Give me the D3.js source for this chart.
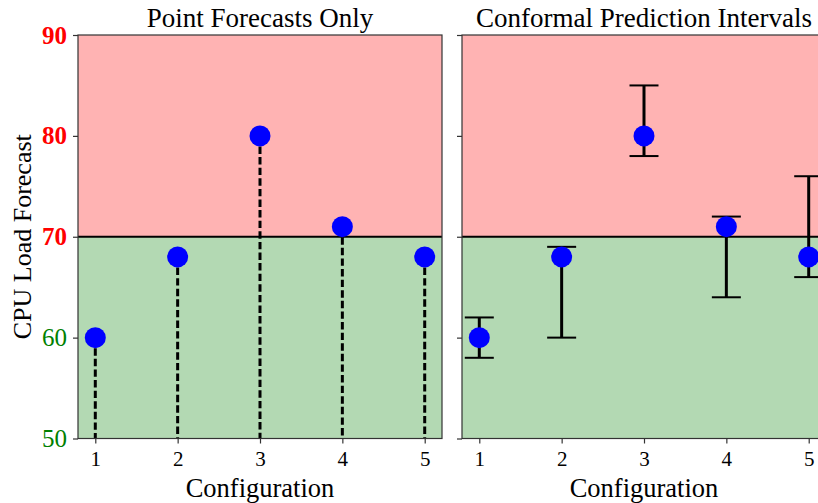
<!DOCTYPE html>
<html>
<head>
<meta charset="utf-8">
<script src="https://cdn.jsdelivr.net/npm/d3@7"></script>
<style>
  body { margin: 0; background: #fff; overflow: hidden; }
  svg { display: block; font-family: "Liberation Serif", "DejaVu Serif", serif; }
</style>
</head>
<body>
<div id="chart"></div>
<script>
// data
const configs = [1, 2, 3, 4, 5];
const forecasts = [60, 68, 80, 71, 68];
const lowerBounds = [58, 60, 78, 64, 66];
const upperBounds = [62, 69, 85, 72, 76];
const yTicks = [50, 60, 70, 80, 90];
const threshold = 70;
const panelTitles = ["Point Forecasts Only", "Conformal Prediction Intervals"];

const W = 818, H = 503;
const margin = {top: 35, left: 78};
const panelW = 364, panelH = 403.5, panelGap = 20;
const serif = "'Liberation Serif', serif";

const svg = d3.select("#chart").append("svg")
    .attr("width", W)
    .attr("height", H);

const x = d3.scaleLinear().domain([0.79, 5.21]).range([0, panelW]);
const y = d3.scaleLinear().domain([50, 90]).range([panelH, 0]);

const points = configs.map((c, i) => ({
    c: c, v: forecasts[i], lo: lowerBounds[i], hi: upperBounds[i]
}));

panelTitles.forEach((title, p) => {
    const left = margin.left + p * (panelW + panelGap);
    const g = svg.append("g")
        .attr("transform", "translate(" + left + "," + margin.top + ")");

    // background zones
    g.append("rect")
        .attr("x", 0).attr("y", y(90))
        .attr("width", panelW).attr("height", y(threshold) - y(90))
        .attr("fill", "#ffb3b3");
    g.append("rect")
        .attr("x", 0).attr("y", y(threshold))
        .attr("width", panelW).attr("height", y(50) - y(threshold))
        .attr("fill", "#b3d9b3");

    // threshold line
    g.append("line")
        .attr("x1", 0).attr("x2", panelW)
        .attr("y1", y(threshold)).attr("y2", y(threshold))
        .attr("stroke", "#000").attr("stroke-width", 2);

    if (p === 0) {
        // dashed stems down to the axis
        g.selectAll(".stem").data(points).join("line")
            .attr("class", "stem")
            .attr("x1", d => x(d.c)).attr("x2", d => x(d.c))
            .attr("y1", d => y(d.v)).attr("y2", y(50))
            .attr("stroke", "#000").attr("stroke-width", 3)
            .attr("stroke-dasharray", "7.4,3.2");
    } else {
        // error bars
        const eb = g.selectAll(".err").data(points).join("g").attr("class", "err");
        eb.append("line")
            .attr("x1", d => x(d.c)).attr("x2", d => x(d.c))
            .attr("y1", d => y(d.lo)).attr("y2", d => y(d.hi))
            .attr("stroke", "#000").attr("stroke-width", 3);
        eb.append("line")
            .attr("x1", d => x(d.c) - 14.5).attr("x2", d => x(d.c) + 14.5)
            .attr("y1", d => y(d.lo)).attr("y2", d => y(d.lo))
            .attr("stroke", "#000").attr("stroke-width", 2);
        eb.append("line")
            .attr("x1", d => x(d.c) - 14.5).attr("x2", d => x(d.c) + 14.5)
            .attr("y1", d => y(d.hi)).attr("y2", d => y(d.hi))
            .attr("stroke", "#000").attr("stroke-width", 2);
    }

    // forecast markers
    g.selectAll(".pt").data(points).join("circle")
        .attr("class", "pt")
        .attr("cx", d => x(d.c)).attr("cy", d => y(d.v))
        .attr("r", 10.5)
        .attr("fill", "#0000ff");

    // frame
    g.append("rect")
        .attr("width", panelW).attr("height", panelH)
        .attr("fill", "none").attr("stroke", "#333").attr("stroke-width", 1.2);

    // axes
    const xAxis = g.append("g")
        .attr("transform", "translate(0," + panelH + ")")
        .call(d3.axisBottom(x).tickValues(configs).tickSize(5).tickPadding(8).tickFormat(d3.format("d")));
    xAxis.attr("font-family", serif).attr("font-size", 21);
    xAxis.select(".domain").remove();
    xAxis.selectAll("line").attr("stroke", "#333").attr("stroke-width", 1.2);
    xAxis.selectAll("text").attr("fill", "#000");

    const yAxis = g.append("g")
        .call(d3.axisLeft(y).tickValues(yTicks).tickSize(5).tickPadding(6)
            .tickFormat(p === 0 ? d3.format("d") : ""));
    yAxis.attr("font-family", serif).attr("font-size", 25);
    yAxis.select(".domain").remove();
    yAxis.selectAll("line").attr("stroke", "#333").attr("stroke-width", 1.2);
    yAxis.selectAll("text")
        .attr("fill", d => d >= threshold ? "#ff0000" : "#008000")
        .attr("font-weight", d => d >= threshold ? "bold" : "normal");

    // titles
    g.append("text")
        .attr("x", panelW / 2).attr("y", -8)
        .attr("text-anchor", "middle")
        .attr("font-family", serif)
        .attr("font-size", 27)
        .text(title);

    g.append("text")
        .attr("x", panelW / 2).attr("y", panelH + 58.5)
        .attr("text-anchor", "middle")
        .attr("font-family", serif)
        .attr("font-size", 26.5)
        .text("Configuration");

    if (p === 0) {
        g.append("text")
            .attr("transform", "translate(" + (-47) + "," + (panelH / 2) + ") rotate(-90)")
            .attr("text-anchor", "middle")
            .attr("font-family", serif)
            .attr("font-size", 26)
            .text("CPU Load Forecast");
    }
});
</script>
</body>
</html>
